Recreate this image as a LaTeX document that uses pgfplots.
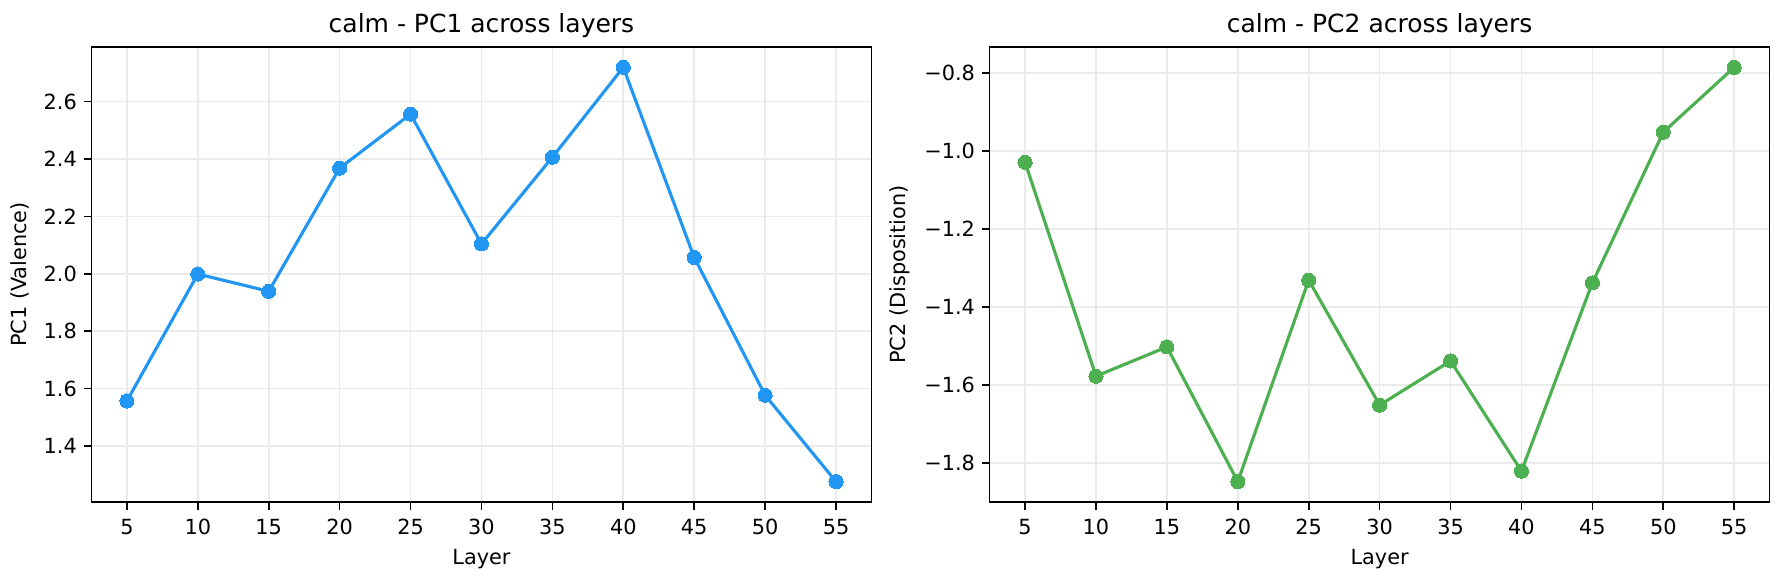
\documentclass[border=0pt]{standalone}
\usepackage{fontspec}
\setmainfont{DejaVu Sans}
\usepackage{pgfplots}
\pgfplotsset{compat=1.18}
\definecolor{cblue}{HTML}{2196F3}
\definecolor{cgreen}{HTML}{4CAF50}
\definecolor{gridc}{HTML}{EBEBEB}

\pgfplotsset{layerstyle/.style={
    width=374.4pt, height=218.7pt, scale only axis,
    xmin=2.5, xmax=57.5, xtick={5,10,...,55},
    grid=major, major grid style={gridc, line width=0.8pt},
    axis line style={line width=0.8pt},
    tick align=outside, major tick length=3.5pt,
    every tick/.style={black, line width=0.8pt},
    tick pos=left,
    tick label style={font=\fontsize{10}{12}\selectfont},
    xticklabel style={yshift=-1pt},
    label style={font=\fontsize{10}{12}\selectfont},
    title style={font=\fontsize{12}{14}\selectfont, yshift=-5pt},
    /pgf/number format/assume math mode=true,
    xlabel={Layer},
  }}

\begin{document}
\begin{tikzpicture}
\begin{axis}[layerstyle, at={(0,0)},
    title={calm - PC1 across layers},
    ylabel={PC1 (Valence)},
    ymin=1.204, ymax=2.791,
    ytick={1.4,1.6,...,2.61},
    yticklabel style={/pgf/number format/.cd, fixed, fixed zerofill, precision=1},
  ]
  \addplot[cblue, line width=1.5pt, mark=*, mark size=3.4pt,
           mark options={fill=cblue, draw=cblue, line width=0pt}]
    coordinates {(5,1.557)(10,1.999)(15,1.939)(20,2.368)(25,2.556)(30,2.104)
                 (35,2.406)(40,2.719)(45,2.057)(50,1.577)(55,1.276)};
\end{axis}

\begin{axis}[layerstyle, at={(431.1pt,0)},
    title={calm - PC2 across layers},
    ylabel={PC2 (Disposition)},
    ymin=-1.900, ymax=-0.733,
    ytick={-1.8,-1.6,-1.4,-1.2,-1.0,-0.8},
    yticklabels={−1.8,−1.6,−1.4,−1.2,−1.0,−0.8},
  ]
  \addplot[cgreen, line width=1.5pt, mark=*, mark size=3.4pt,
           mark options={fill=cgreen, draw=cgreen, line width=0pt}]
    coordinates {(5,-1.029)(10,-1.577)(15,-1.502)(20,-1.847)(25,-1.331)(30,-1.651)
                 (35,-1.538)(40,-1.820)(45,-1.338)(50,-0.952)(55,-0.786)};
\end{axis}
\path (-43.9pt,-37.8pt) rectangle (812.4pt,241.1pt);
\end{tikzpicture}
\end{document}
